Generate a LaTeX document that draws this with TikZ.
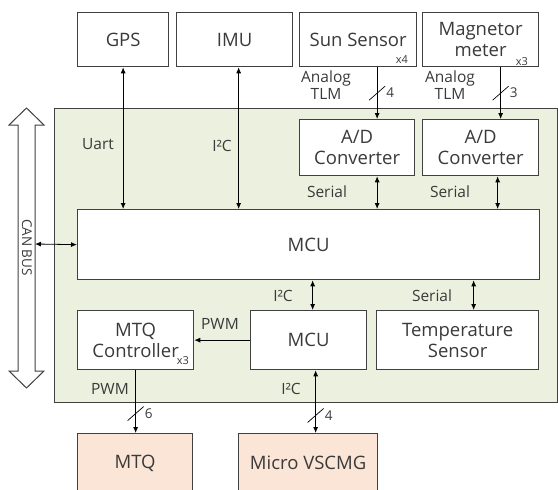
\documentclass[tikz,border=0pt]{standalone}
\usepackage{fontspec}
\setmainfont{Open Sans}
\usetikzlibrary{arrows.meta}
\definecolor{panelgreen}{HTML}{EBF1DE}
\definecolor{actpink}{HTML}{FBE5D6}
\definecolor{edgegray}{HTML}{404040}
\definecolor{txtgray}{HTML}{3A3A3A}

\begin{document}
\begin{tikzpicture}[x=1pt,y=-1pt,
    blk/.style={draw=edgegray, line width=1.3pt, fill=white, anchor=north west,
        align=center, inner sep=0pt, text=txtgray, font=\fontsize{18.5}{21}\selectfont},
    lbl/.style={text=txtgray, font=\fontsize{15.5}{16.5}\selectfont, inner sep=0pt, align=center},
    tag/.style={text=txtgray, font=\fontsize{11}{12}\selectfont, inner sep=0pt},
    num/.style={text=txtgray, font=\fontsize{13.5}{14}\selectfont, inner sep=0pt},
    sig/.style={line width=0.8pt, arrows={-Latex[length=6pt,width=5pt]}},
    dsig/.style={line width=0.8pt, arrows={Latex[length=6pt,width=5pt]-Latex[length=6pt,width=5pt]}},
    cut/.style={line width=0.7pt}]
    \useasboundingbox (0,0) rectangle (558,490);

    \fill[panelgreen] (54,108) rectangle (557,402);
    \draw[edgegray, line width=1pt] (54,108) rectangle (557,402);

    \draw[edgegray, line width=1pt, fill=white] (18,125) -- (9,125) -- (26.5,108) -- (44,125) -- (35,125)
        -- (35,371) -- (44,371) -- (26.5,388) -- (9,371) -- (18,371) -- cycle;
    \node[lbl, rotate=-90, font=\fontsize{13.5}{14}\selectfont] (canbus) at (27,247.5) {CAN BUS};
    \coordinate (busR) at (35,244);

    \node[blk, minimum width=91pt, minimum height=54pt] (gps) at (77,12) {GPS};
    \node[blk, minimum width=116pt, minimum height=54pt] (imu) at (176,12) {IMU};
    \node[blk, minimum width=117pt, minimum height=54pt] (sun) at (299,12) {Sun Sensor};
    \node[blk, minimum width=116pt, minimum height=54pt] (mag) at (422,12) {Magnetor\\meter};
    \node[blk, minimum width=115pt, minimum height=56pt] (adA) at (299,119) {A/D\\Converter};
    \node[blk, minimum width=116pt, minimum height=56pt] (adB) at (422,119) {A/D\\Converter};
    \node[blk, minimum width=462pt, minimum height=70pt] (mcu) at (77,209) {MCU};
    \node[blk, minimum width=116pt, minimum height=59pt] (mtqc) at (77,310) {MTQ\\Controller};
    \node[blk, minimum width=116pt, minimum height=59pt] (mcu2) at (250,310) {MCU};
    \node[blk, minimum width=162pt, minimum height=59pt] (temp) at (376,310) {Temperature\\Sensor};
    \node[blk, fill=actpink, minimum width=115pt, minimum height=59pt] (mtq) at (77,433) {MTQ};
    \node[blk, fill=actpink, minimum width=139pt, minimum height=59pt] (vscmg) at (238,433) {Micro VSCMG};

    \node[tag] (sunx) at (402,60) {x4};
    \node[tag] (magx) at (522,62) {x3};
    \node[tag] (mtqcx) at (183,361) {x3};

    \draw[dsig] (busR) -- (mcu.west);
    \draw[dsig] (gps.south) -- (gps.south |- mcu.north);
    \draw[dsig] ([xshift=4pt]imu.south) -- ([xshift=4pt]imu.south |- mcu.north);
    \draw[sig] ([xshift=19pt]sun.south) -- coordinate[pos=0.5] (cutA) ([xshift=19pt]sun.south |- adA.north);
    \draw[sig] ([xshift=20pt]mag.south) -- coordinate[pos=0.5] (cutB) ([xshift=20pt]mag.south |- adB.north);
    \draw[dsig] ([xshift=20pt]adA.south) -- ([xshift=20pt]adA.south |- mcu.north);
    \draw[dsig] ([xshift=17pt]adB.south) -- ([xshift=17pt]adB.south |- mcu.north);
    \draw[dsig] ([xshift=4pt]mcu2.north) -- ([xshift=4pt]mcu2.north |- mcu.south);
    \draw[dsig] ([xshift=16pt]temp.north) -- ([xshift=16pt]temp.north |- mcu.south);
    \draw[sig] (mcu2.west) -- (mcu2.west -| mtqc.east);
    \draw[sig] (mtqc.south) -- coordinate[pos=0.69] (cutC) (mtqc.south |- mtq.north);
    \draw[dsig] ([xshift=7pt]mcu2.south) -- coordinate[pos=0.72] (cutD) ([xshift=7pt]mcu2.south |- vscmg.north);

    \foreach \c/\n in {cutA/4, cutB/3, cutC/6, cutD/4} {
        \draw[cut] (\c) ++(-8,7) -- ++(16,-14);
        \node[num] at ([xshift=13pt]\c) {\n};
    }

    \node[lbl] (uart) at (98,144) {Uart};
    \node[lbl] (imubus) at (222,146) {I²C};
    \node[lbl] (tlmA) at (326,85) {Analog\\TLM};
    \node[lbl] (tlmB) at (450,85) {Analog\\TLM};
    \node[lbl] (serA) at (327,192) {Serial};
    \node[lbl] (serB) at (450,192) {Serial};
    \node[lbl] (mcubus) at (283,296) {I²C};
    \node[lbl] (serT) at (432,296) {Serial};
    \node[lbl] (pwmA) at (220,324) {PWM};
    \node[lbl] (pwmB) at (110,389) {PWM};
    \node[lbl] (cmgbus) at (291,389) {I²C};
\end{tikzpicture}
\end{document}
